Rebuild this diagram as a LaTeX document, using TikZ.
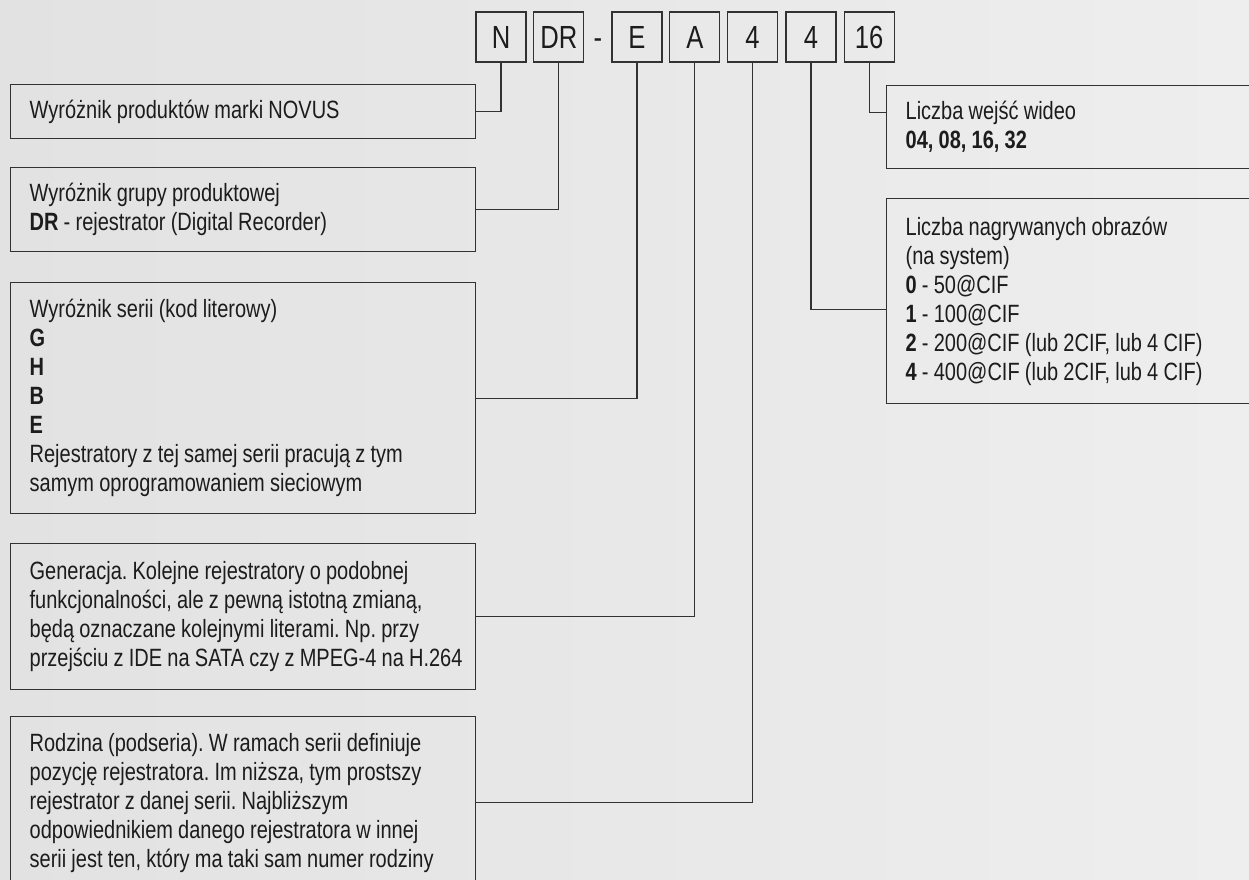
\documentclass[tikz,border=0pt]{standalone}
\usepackage{fontspec}
\setmainfont{Liberation Sans}[FakeStretch=0.8]
\usetikzlibrary{positioning}
\definecolor{tlo}{RGB}{226,226,226}
\definecolor{tlojasne}{RGB}{238,238,238}
\definecolor{linia}{RGB}{50,50,50}
\definecolor{tekst}{RGB}{28,28,28}
\newcommand{\opisfont}{\fontsize{25}{29}\selectfont\frenchspacing}
\tikzset{
    kod/.style = {draw=linia, line width=1.3pt, minimum width=50pt, minimum height=50pt,
                  inner sep=0pt, text height=23pt, text depth=0pt, text=tekst,
                  font=\fontsize{32}{36}\selectfont},
    opis/.style = {draw=linia, line width=1.3pt, anchor=north west, align=left,
                   inner sep=0pt, text=tekst, font=\opisfont,
                   execute at begin node={\leftskip=19.5pt\rightskip=-20pt plus 1fil
                       \spaceskip=5.2pt plus 1pt minus 1pt\relax}},
    lewy/.style = {opis, text width=465.5pt},
    prawy/.style = {opis, text width=440pt},
    lacznik/.style = {draw=linia, line width=1.3pt}
}

\begin{document}
\begin{tikzpicture}[x=1pt, y=-1pt, node distance=6.5pt]

                % Background:
                \clip (0,0) rectangle (1249,879);
                \shade[left color=tlo, right color=tlojasne] (0,0) rectangle (1249,879);

                % Code:
                \node[kod] (n) at (501,37) {N};
                \node[kod, right=of n] (dr) {DR};
                \node[right=0pt of dr, minimum width=26.5pt, inner sep=0pt, text height=23pt,
                      text depth=0pt, text=tekst, font=\fontsize{32}{36}\selectfont] (myslnik) {-};
                \node[kod, right=0pt of myslnik] (e) {E};
                \node[kod, right=of e] (a) {A};
                \node[kod, right=of a] (rodz) {4};
                \node[kod, right=7pt of rodz] (nagr) {4};
                \node[kod, right=7pt of nagr] (wej) {16};

                % Left descriptions:
                \node[lewy, minimum height=54pt] (novus) at (9.5,84) {Wyróżnik produktów marki NOVUS};
                \node[lewy, minimum height=84pt] (grupa) at (9.5,167) {Wyróżnik grupy produktowej\\
                    \textbf{DR} - rejestrator (Digital Recorder)};
                \node[lewy, minimum height=231pt] (seria) at (9.5,282) {Wyróżnik serii (kod literowy)\\
                    \textbf{G}\\ \textbf{H}\\ \textbf{B}\\ \textbf{E}\\
                    Rejestratory z tej samej serii pracują z tym\\ samym oprogramowaniem sieciowym};
                \node[lewy, minimum height=146pt] (generacja) at (9.5,543) {Generacja. Kolejne rejestratory o podobnej\\
                    funkcjonalności, ale z pewną istotną zmianą,\\
                    będą oznaczane kolejnymi literami. Np. przy\\
                    przejściu z IDE na SATA czy z MPEG-4 na H.264};
                \node[lewy, minimum height=172pt] (rodzina) at (9.5,716) {Rodzina (podseria). W ramach serii definiuje\\
                    pozycję rejestratora. Im niższa, tym prostszy\\
                    rejestrator z danej serii. Najbliższym\\
                    odpowiednikiem danego rejestratora w innej\\
                    serii jest ten, który ma taki sam numer rodziny};

                % Right descriptions:
                \node[prawy, minimum height=83pt] (wideo) at (885.5,85) {Liczba wejść wideo\\
                    \textbf{04, 08, 16, 32}};
                \node[prawy, minimum height=205pt] (obrazy) at (885.5,198) {Liczba nagrywanych obrazów\\
                    (na system)\\
                    \textbf{0} - 50@CIF\\
                    \textbf{1} - 100@CIF\\
                    \textbf{2} - 200@CIF (lub 2CIF, lub 4 CIF)\\
                    \textbf{4} - 400@CIF (lub 2CIF, lub 4 CIF)};

                % Connectors:
                \draw[lacznik] (n.south) |- (novus.east);
                \draw[lacznik] (dr.south) |- (grupa.east);
                \draw[lacznik] (e.south) |- (seria.east);
                \draw[lacznik] (a.south) |- (generacja.east);
                \draw[lacznik] (rodz.south) |- (rodzina.east);
                \draw[lacznik] (nagr.south) |- ([yshift=-8.5pt]obrazy.west);
                \draw[lacznik] (wej.south) |- ([yshift=14.5pt]wideo.west);
            \end{tikzpicture}
\end{document}
